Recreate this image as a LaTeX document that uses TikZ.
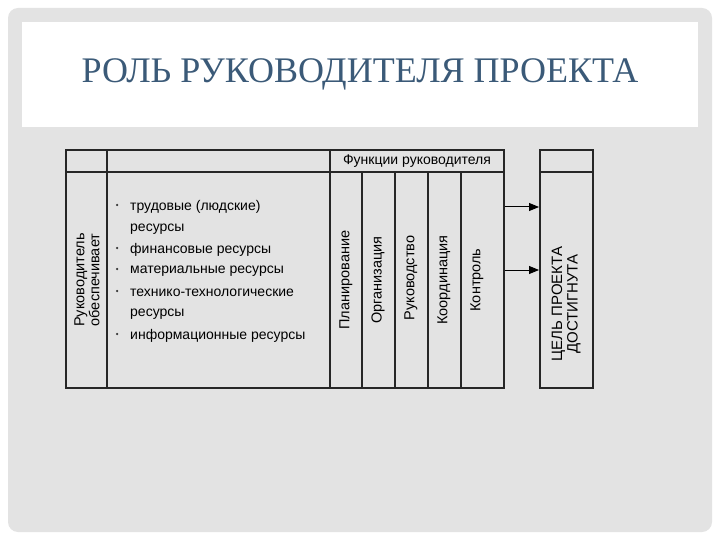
\documentclass[tikz,border=0pt]{standalone}
\usepackage{fontspec}
\setmainfont{Liberation Sans}
\newfontfamily\titlefont{Liberation Serif}
\usetikzlibrary{arrows.meta}
\definecolor{panel}{HTML}{E3E3E3}
\definecolor{titlec}{HTML}{3B5A78}
\tikzset{
  grid/.style={draw=black!85, line width=1.1pt},
  rot/.style={rotate=90, font=\fontsize{14.5}{15}\selectfont, align=center, inner sep=0pt},
  item/.style={anchor=west, font=\fontsize{14}{15}\selectfont, inner sep=0pt},
  bul/.style={anchor=center, inner sep=0pt, fill=black!80, circle, minimum size=2.5pt},
  arr/.style={-{Triangle[length=10pt,width=8pt]}, line width=1pt}
}
\begin{document}
\begin{tikzpicture}[x=1pt,y=-1pt]
\useasboundingbox (0,0) rectangle (720,540);
\fill[white] (0,0) rectangle (720,540);
\fill[panel, rounded corners=10pt] (8,8) rectangle (712,532);
\fill[white] (22,22) rectangle (698,127);
\node[font=\titlefont\fontsize{36}{38}\selectfont, text=titlec] (title) at (360,74) {РОЛЬ РУКОВОДИТЕЛЯ ПРОЕКТА};
% main table
\draw[grid] (66,150) rectangle (504,388);
\draw[grid] (66,172) -- (504,172);
\foreach \x in {107,330} \draw[grid] (\x,150) -- (\x,388);
\foreach \x in {362,395,428,461} \draw[grid] (\x,172) -- (\x,388);
\node[font=\fontsize{14}{15}\selectfont] (hdr) at (417,161) {Функции руководителя};
\node[rot] (who) at (87,280) {Руководитель\\обеспечивает};
\foreach \y/\t in {207/трудовые (людские), 229/ресурсы, 250/финансовые ресурсы, 271/материальные ресурсы, 293/технико-технологические, 314/ресурсы, 336/информационные ресурсы}
  \node[item] at (130,\y) {\t};
\foreach \y in {207,250,271,293,336} \node[bul] at (117,\y-2) {};
\node[rot] (f1) at (346,280) {Планирование};
\node[rot] (f2) at (378,280) {Организация};
\node[rot] (f3) at (411,278) {Руководство};
\node[rot] (f4) at (444,280) {Координация};
\node[rot] (f5) at (477,280) {Контроль};
% goal box
\draw[grid] (540,150) rectangle (593,388);
\draw[grid] (540,172) -- (593,172);
\node[rot, font=\fontsize{15}{15.5}\selectfont] (goal) at (566,304) {ЦЕЛЬ ПРОЕКТА\\ДОСТИГНУТА};
\coordinate (a1) at (505,207);
\coordinate (a2) at (505,270);
\draw[arr] (a1) -- (539,207);
\draw[arr] (a2) -- (539,270);
\end{tikzpicture}
\end{document}
